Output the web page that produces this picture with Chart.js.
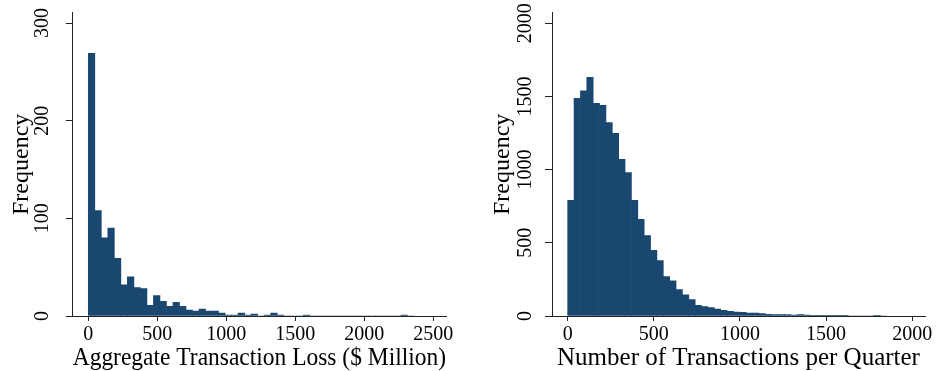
<!DOCTYPE html>
<html>
<head>
<meta charset="utf-8">
<script src="https://cdn.jsdelivr.net/npm/chart.js@4/dist/chart.umd.min.js"></script>
<style>
  html, body { margin: 0; padding: 0; background: #fff; }
  .panel { position: absolute; top: 0; width: 469px; height: 371px; }
</style>
</head>
<body>
<div class="panel" style="left:0"><canvas id="lossChart"></canvas></div>
<div class="panel" style="left:469px"><canvas id="countChart"></canvas></div>
<script>
/* global Chart */

// left panel: aggregate transaction loss, bins of ~47.2 ($ million)
let lossBinWidth = 47.2;
let lossCounts = [
  269, 108, 80, 90, 59, 32, 40, 29, 28, 11,
  21, 15, 10, 14, 10, 6, 5, 7, 5, 5,
  3, 1, 1, 3, 1, 2, 0, 1, 3, 1,
  0, 0, 0, 1, 0, 0, 0, 0, 0, 0,
  0, 0, 0, 0, 0, 0, 0, 0, 1, 0,
];
let lossXTicks = [0, 500, 1000, 1500, 2000, 2500];
let lossYTicks = [0, 100, 200, 300];

// right panel: number of transactions per quarter, bins of ~37
let countBinWidth = 37;
let countCounts = [
  790, 1487, 1538, 1631, 1453, 1440, 1321, 1248, 1071, 980,
  790, 661, 549, 449, 378, 269, 241, 180, 144, 112,
  73, 64, 57, 48, 39, 32, 27, 25, 20, 20,
  16, 11, 9, 9, 9, 7, 9, 7, 2, 4,
  5, 4, 4, 3, 0, 0, 0, 0, 4, 0,
];
let countXTicks = [0, 500, 1000, 1500, 2000];
let countYTicks = [0, 500, 1000, 1500, 2000];

const barColor = "#1a476f";
const axisColor = "#222";
const serif = "'Liberation Serif', 'Times New Roman', serif";

function toBins(counts, width) {
  return counts.map((c, i) => ({ x: (i + 0.5) * width, y: c }));
}

function histogram(id, opts) {
  const ctx = document.getElementById(id).getContext("2d");
  return new Chart(ctx, {
    type: "bar",
    data: {
      datasets: [
        {
          data: toBins(opts.counts, opts.binWidth),
          backgroundColor: barColor,
          borderWidth: 0,
          barPercentage: 1,
          categoryPercentage: 1,
        },
      ],
    },
    options: {
      responsive: true,
      maintainAspectRatio: false,
      animation: false,
      layout: { padding: { top: 12.7, right: opts.padRight, left: 0, bottom: 0 } },
      plugins: { legend: { display: false }, tooltip: { enabled: false } },
      scales: {
        x: {
          type: "linear",
          min: opts.xMin,
          max: opts.xMax,
          offset: false,
          afterBuildTicks: (s) => { s.ticks = opts.xTicks.map((v) => ({ value: v })); },
          afterFit: (s) => { s.height = 55; s.paddingLeft = 0; s.paddingRight = 0; },
          border: { display: true, color: axisColor, width: 1 },
          grid: { display: true, offset: false, drawOnChartArea: false, drawTicks: true, tickLength: 5, tickColor: axisColor },
          ticks: {
            color: "#000", autoSkip: false, maxRotation: 0, padding: 1.5,
            font: { family: serif, size: 20 },
            callback: (v) => String(v),
          },
          title: {
            display: true, text: opts.xTitle, color: "#000",
            font: { family: serif, size: 25, lineHeight: 1 },
            padding: { top: 0, bottom: 0 },
          },
        },
        y: {
          min: 0,
          max: opts.yMax,
          afterBuildTicks: (s) => { s.ticks = opts.yTicks.map((v) => ({ value: v })); },
          // keep the plot box where the reference has it, whatever the label overhang
          afterFit: (s) => { s.width = opts.yWidth; s.paddingTop = 0; s.paddingBottom = 0; },
          border: { display: true, color: axisColor, width: 1 },
          grid: { display: true, drawOnChartArea: false, drawTicks: true, tickLength: 7, tickColor: axisColor },
          ticks: {
            color: "#000", minRotation: 90, maxRotation: 90, crossAlign: "center",
            padding: opts.yTickPad,
            font: { family: serif, size: 20 },
            callback: (v) => String(v),
          },
          title: {
            display: true, text: "Frequency", color: "#000",
            font: { family: serif, size: 24, lineHeight: 1 },
            padding: { top: opts.yTitlePad, bottom: 0 },
          },
        },
      },
    },
  });
}

histogram("lossChart", {
  counts: lossCounts, binWidth: lossBinWidth,
  xTicks: lossXTicks, yTicks: lossYTicks,
  xMin: -113, xMax: 2592, yMax: 310.6,
  xTitle: "Aggregate Transaction Loss ($ Million)",
  yWidth: 72.7, padRight: 23, yTickPad: 8.2, yTitlePad: 10,
});

histogram("countChart", {
  counts: countCounts, binWidth: countBinWidth,
  xTicks: countXTicks, yTicks: countYTicks,
  xMin: -91, xMax: 2074, yMax: 2072,
  xTitle: "Number of Transactions per Quarter",
  yWidth: 83, padRight: 13, yTickPad: -0.8, yTitlePad: 21.6,
});
</script>
</body>
</html>
